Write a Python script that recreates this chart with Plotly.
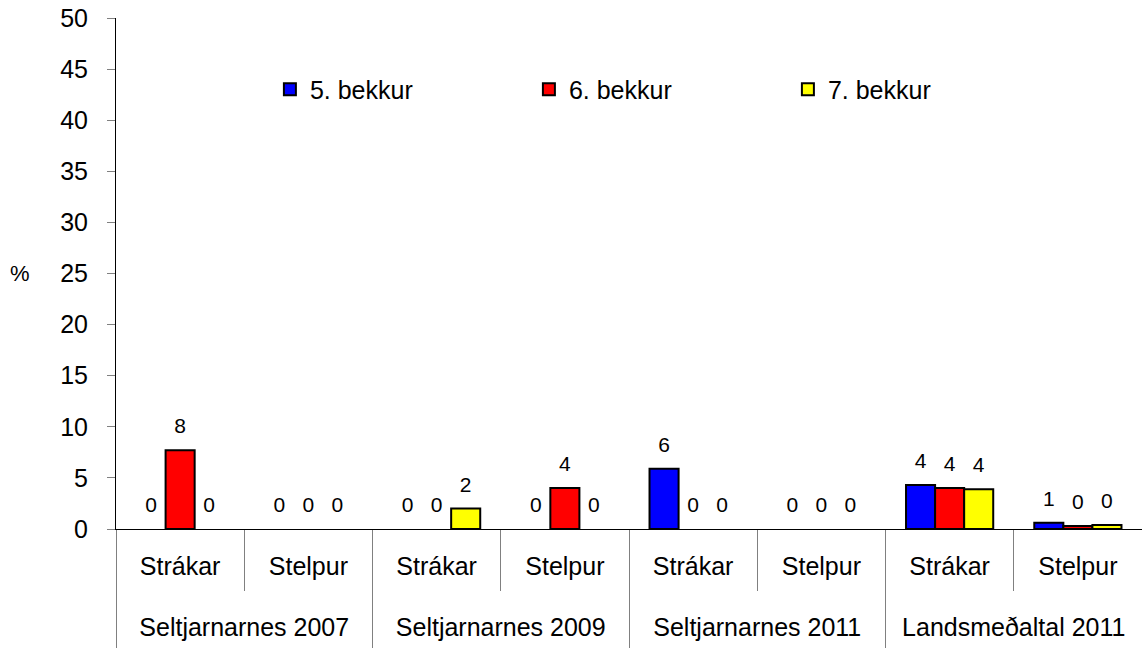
import plotly.graph_objects as go

groups = ["Seltjarnarnes 2007", "Seltjarnarnes 2007",
          "Seltjarnarnes 2009", "Seltjarnarnes 2009",
          "Seltjarnarnes 2011", "Seltjarnarnes 2011",
          "Landsmeðaltal 2011", "Landsmeðaltal 2011"]
sexes = ["Strákar", "Stelpur"] * 4
group_labels = ["Seltjarnarnes 2007", "Seltjarnarnes 2009",
                "Seltjarnarnes 2011", "Landsmeðaltal 2011"]
series_names = ["5. bekkur", "6. bekkur", "7. bekkur"]
v5 = [0, 0, 0, 0, 5.9, 0, 4.3, 0.6]
v6 = [7.7, 0, 0, 4.0, 0, 0, 4.0, 0.3]
v7 = [0, 0, 2.0, 0, 0, 0, 3.9, 0.4]
colors = ["#0000FF", "#FF0000", "#FFFF00"]
y_ticks = list(range(0, 51, 5))

FONT = "Liberation Sans, Arial, sans-serif"
BARGAP = 0.32
n = len(sexes)
per_group = n // len(group_labels)
XRANGE = [-0.5, n - 0.5]
inner_pos = list(range(n))
inner_bounds = [i - 0.5 for i in range(n + 1)]
outer_pos = [g * per_group + (per_group - 1) / 2 for g in range(len(group_labels))]
outer_bounds = [g * per_group - 0.5 for g in range(len(group_labels) + 1)]

fig = go.Figure()
for name, vals, col in zip(series_names, [v5, v6, v7], colors):
    fig.add_trace(go.Bar(
        x=[groups, sexes], y=[v if v > 0 else None for v in vals], name=name,
        marker=dict(color=col, line=dict(color="black", width=2)),
        hoverinfo="skip",
    ))
for name, vals in zip(series_names, [v5, v6, v7]):
    fig.add_trace(go.Scatter(
        x=[groups, sexes], y=vals, mode="markers+text",
        text=[f"{v:.0f}" for v in vals], textposition="top center",
        textfont=dict(size=21, color="black", family=FONT),
        marker=dict(size=17, opacity=0),
        showlegend=False, hoverinfo="skip", cliponaxis=False,
    ))
# empty helper traces so the two label-row axes are drawn
for ax_id, pos in (("x2", inner_pos), ("x3", outer_pos)):
    fig.add_trace(go.Scatter(
        x=pos, y=[None] * len(pos), xaxis=ax_id, yaxis="y", mode="markers",
        showlegend=False, hoverinfo="skip",
    ))

fig.update_layout(
    width=1142, height=648,
    margin=dict(l=116, r=0, t=18, b=119),
    paper_bgcolor="white", plot_bgcolor="white",
    font=dict(family=FONT, size=25, color="black"),
    barmode="group", bargap=BARGAP, bargroupgap=0,
    scattermode="group", scattergap=BARGAP,
    showlegend=True,
    legend=dict(orientation="h", x=0.15, xanchor="left", y=0.86, yanchor="middle",
                entrywidth=214, entrywidthmode="pixels", itemwidth=30,
                font=dict(size=25, family=FONT), bgcolor="rgba(0,0,0,0)",
                traceorder="normal"),
    annotations=[dict(text="%", xref="paper", yref="y", x=-0.0936, y=25,
                      xanchor="center", yanchor="middle",
                      showarrow=False, font=dict(size=22, family=FONT))],
    xaxis=dict(type="multicategory", range=XRANGE, showgrid=False, showline=True,
               linecolor="black", linewidth=1, ticks="",
               showticklabels=False, showdividers=False),
    # inner row: Strákar / Stelpur with separators
    xaxis2=dict(type="linear", range=XRANGE, overlaying="x", anchor="y",
                side="bottom", showgrid=False, showline=False, zeroline=False,
                tickmode="array", tickvals=inner_pos, ticktext=sexes, ticks="",
                ticklabelstandoff=20, tickfont=dict(size=25),
                minor=dict(tickmode="array", tickvals=inner_bounds, ticks="outside",
                           ticklen=61, tickcolor="#808080", tickwidth=1,
                           showgrid=False)),
    # outer row: groups with long dividers
    xaxis3=dict(type="linear", range=XRANGE, overlaying="x", anchor="y",
                side="bottom", showgrid=False, showline=False, zeroline=False,
                tickmode="array", tickvals=outer_pos, ticktext=group_labels, ticks="",
                ticklabelstandoff=81, tickfont=dict(size=25),
                minor=dict(tickmode="array", tickvals=outer_bounds, ticks="outside",
                           ticklen=119, tickcolor="#808080", tickwidth=1,
                           showgrid=False)),
    yaxis=dict(range=[0, 50], tickvals=y_ticks, showgrid=False, zeroline=False,
               showline=True, linecolor="black", linewidth=1,
               ticks="outside", ticklen=8, tickcolor="#808080",
               ticklabelstandoff=14, tickfont=dict(size=25)),
)

fig.write_html("out.html", config={"displayModeBar": False},
               post_script="document.body.style.margin='0px';")
